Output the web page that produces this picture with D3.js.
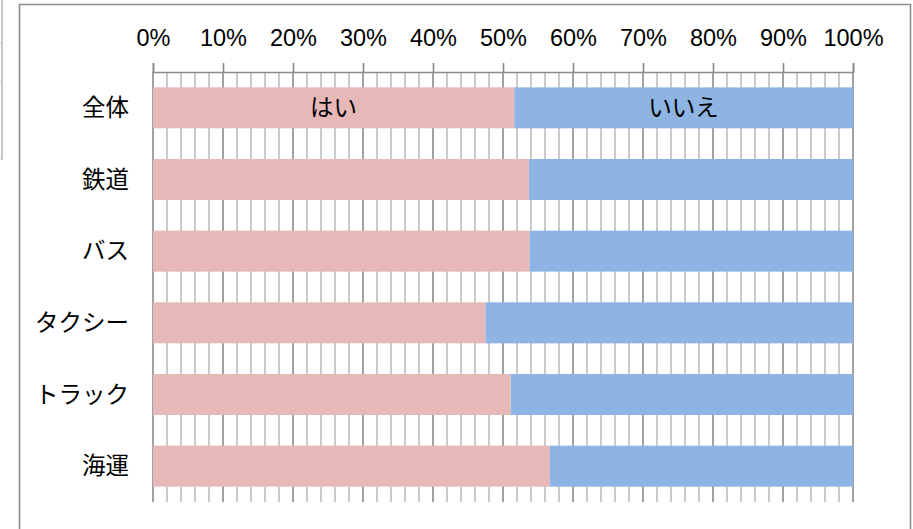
<!DOCTYPE html>
<html><head><meta charset="utf-8">
<script src="https://cdn.jsdelivr.net/npm/d3@7"></script>
<style>html,body{margin:0;padding:0;background:#fff;}svg{display:block;}</style>
</head><body>
<svg id="chart" width="913" height="529"></svg>
<script>
const categories = ["全体", "鉄道", "バス", "タクシー", "トラック", "海運"];
const yesValues = [51.6, 53.7, 53.8, 47.5, 51.1, 56.7];
const noValues = [48.4, 46.3, 46.2, 52.5, 48.9, 43.3];
const seriesNames = ["はい", "いいえ"];
const tickValues = [0, 10, 20, 30, 40, 50, 60, 70, 80, 90, 100];
const colors = ["#E6B9B8", "#8EB4E3"];

const svg = d3.select("#chart");
const plotLeft = 153, plotRight = 853, plotTop = 72, plotBottom = 502;

// left-side partial table artifact
const art = svg.append("g");
art.append("line").attr("x1", 2).attr("x2", 2).attr("y1", 0).attr("y2", 160).attr("stroke", "#c8c8c8").attr("stroke-width", 2);
[43, 82, 120, 158].forEach(v => art.append("line").attr("x1", 0).attr("x2", 2).attr("y1", v).attr("y2", v).attr("stroke", "#c8c8c8").attr("stroke-width", 1));

// outer frame
svg.append("path").attr("d", "M19.5,540 V4.5 H910.5 V540").attr("fill", "none").attr("stroke", "#8c8c8c").attr("stroke-width", 1.6);

const x = d3.scaleLinear().domain([0, 100]).range([plotLeft, plotRight]);
const y = d3.scaleBand().domain(categories).range([plotTop, plotBottom]).paddingInner(0.428).paddingOuter(0.214);

// grid lines
const minor = d3.range(0, 101, 2).filter(v => v % 10 !== 0);
svg.append("g").selectAll("line").data(minor).join("line")
  .attr("x1", d => x(d)).attr("x2", d => x(d)).attr("y1", plotTop).attr("y2", plotBottom)
  .attr("stroke", "#bdbdbd").attr("stroke-width", 1.6);
svg.append("g").selectAll("line").data(tickValues).join("line")
  .attr("x1", d => x(d)).attr("x2", d => x(d)).attr("y1", plotTop).attr("y2", plotBottom)
  .attr("stroke", "#8a8a8a").attr("stroke-width", 1.6);

// top axis
const axis = d3.axisTop(x).tickValues(tickValues).tickSize(9).tickPadding(17).tickFormat(d => d + "%");
const ag = svg.append("g").attr("transform", `translate(0,${plotTop})`).call(axis);
ag.select(".domain").attr("stroke", "#8a8a8a").attr("stroke-width", 1.6);
ag.selectAll(".tick line").attr("stroke", "#8a8a8a").attr("stroke-width", 1.6);
ag.selectAll(".tick text").attr("font-family", "'Liberation Sans', Arial, sans-serif").attr("font-size", 23.5).attr("fill", "#000");

// bars
const rows = categories.map((c, i) => ({c, yes: yesValues[i], no: noValues[i]}));
const bars = svg.append("g");
bars.selectAll("rect.yes").data(rows).join("rect").attr("class", "yes")
  .attr("x", x(0)).attr("y", d => y(d.c)).attr("width", d => x(d.yes) - x(0)).attr("height", y.bandwidth())
  .attr("fill", colors[0]);
bars.selectAll("rect.no").data(rows).join("rect").attr("class", "no")
  .attr("x", d => x(d.yes)).attr("y", d => y(d.c)).attr("width", d => x(d.yes + d.no) - x(d.yes)).attr("height", y.bandwidth())
  .attr("fill", colors[1]);

// series labels on first bar
const first = rows[0];
const lab = svg.append("g").attr("font-family", "'Noto Sans CJK JP', sans-serif").attr("font-size", 23.5).attr("fill", "#000").attr("text-anchor", "middle");
lab.append("text").attr("x", (x(0) + x(first.yes)) / 2).attr("y", y(first.c) + y.bandwidth() / 2).attr("dy", "0.35em").text(seriesNames[0]);
lab.append("text").attr("x", (x(first.yes) + x(first.yes + first.no)) / 2).attr("y", y(first.c) + y.bandwidth() / 2).attr("dy", "0.35em").text(seriesNames[1]);

// category labels
svg.append("g").selectAll("text").data(categories).join("text")
  .attr("x", 129).attr("y", d => y(d) + y.bandwidth() / 2).attr("dy", "0.35em")
  .attr("text-anchor", "end").attr("font-family", "'Noto Sans CJK JP', sans-serif").attr("font-size", 23.5).attr("fill", "#000")
  .text(d => d);
</script>
</body></html>
